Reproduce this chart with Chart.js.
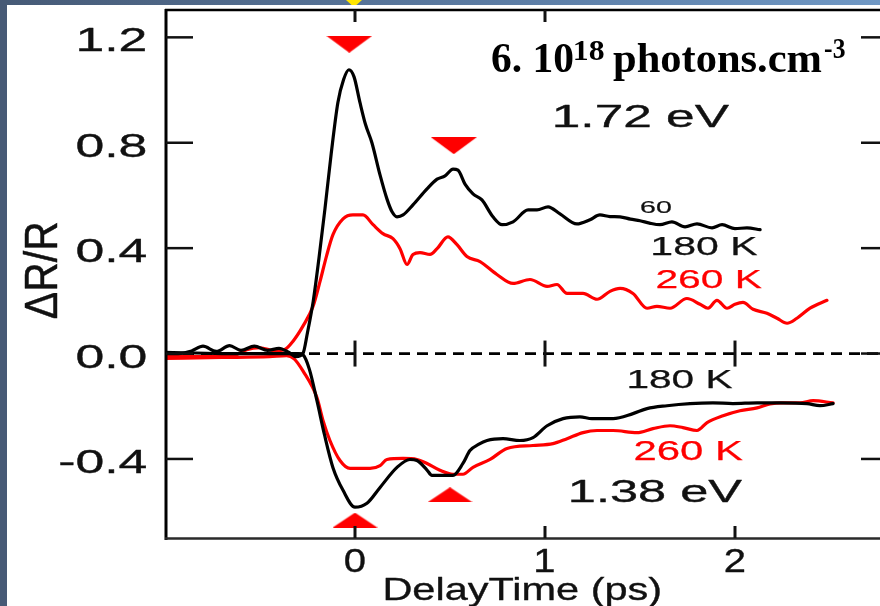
<!DOCTYPE html>
<html>
<head>
<meta charset="utf-8">
<script src="https://cdn.jsdelivr.net/npm/chart.js@4.4.1/dist/chart.umd.min.js"></script>
<style>
  html, body { margin: 0; padding: 0; background: #fff; overflow: hidden; width: 880px; height: 606px; }
  #wrap { position: relative; width: 880px; height: 606px; overflow: hidden; background: #fff; }
  #plot { position: absolute; left: 0; top: 0; display: block; }
  #topbar { position: absolute; left: 0; top: 0; width: 880px; height: 5px;
            background: linear-gradient(90deg, #465a76, #5d7ea6 60%, #7098c4); }
  #side { position: absolute; left: 0; top: 0; width: 7px; height: 606px; background: #475a76; }
  #pin { position: absolute; left: 346px; top: 0; width: 16px; height: 5px; background: #ffe600;
         clip-path: polygon(0 0, 100% 0, 65% 100%, 35% 100%); }
</style>
</head>
<body>
<div id="wrap">
  <canvas id="plot" width="900" height="606"></canvas>
  <div id="topbar"></div>
  <div id="side"></div>
  <div id="pin"></div>
</div>
<script>
// Delay axis (ps) and ΔR/R traces, 1.72 eV probe, 180 K
const blackHighT = [-1.0,-0.93,-0.86,-0.8,-0.73,-0.66,-0.6,-0.53,-0.46,-0.4,-0.35,-0.31,-0.274,-0.25,-0.22,-0.19,-0.158,-0.125,-0.09,-0.06,-0.032,-0.005,0.026,0.055,0.089,0.132,0.168,0.195,0.221,0.253,0.305,0.379,0.432,0.474,0.516,0.542,0.579,0.621,0.668,0.726,0.774,0.832,0.911,0.958,1.016,1.079,1.168,1.237,1.289,1.342,1.395,1.45,1.5,1.55,1.605,1.668,1.737,1.8,1.879,1.932,2.0,2.063,2.132];
const blackHighR = [0.0,0.0,0.01,0.028,0.008,0.03,0.012,0.028,0.012,0.02,0.005,-0.012,0.0,0.08,0.198,0.36,0.55,0.76,0.953,1.04,1.077,1.05,0.953,0.87,0.80,0.677,0.587,0.538,0.519,0.526,0.564,0.625,0.662,0.674,0.70,0.696,0.643,0.606,0.583,0.519,0.489,0.50,0.545,0.545,0.557,0.53,0.492,0.508,0.526,0.52,0.519,0.51,0.504,0.495,0.489,0.50,0.481,0.492,0.477,0.489,0.474,0.477,0.47];

// 1.72 eV probe, 260 K
const redHighT = [-1.0,-0.82,-0.64,-0.57,-0.5,-0.42,-0.37,-0.326,-0.274,-0.221,-0.184,-0.15,-0.116,-0.063,-0.011,0.042,0.095,0.147,0.2,0.237,0.274,0.305,0.342,0.395,0.432,0.489,0.537,0.589,0.658,0.747,0.832,0.921,1.011,1.063,1.116,1.2,1.274,1.342,1.395,1.463,1.537,1.589,1.658,1.747,1.816,1.858,1.905,1.958,2.0,2.042,2.095,2.168,2.221,2.274,2.326,2.395,2.484];
const redHighR = [-0.012,-0.012,-0.008,0.015,0.022,0.01,0.015,0.047,0.104,0.179,0.274,0.37,0.451,0.511,0.526,0.526,0.489,0.455,0.436,0.398,0.338,0.376,0.383,0.376,0.398,0.443,0.413,0.368,0.349,0.30,0.266,0.281,0.255,0.262,0.228,0.228,0.206,0.236,0.247,0.228,0.172,0.179,0.172,0.209,0.187,0.172,0.202,0.172,0.187,0.194,0.168,0.153,0.134,0.115,0.134,0.172,0.202];

// 1.38 eV probe, 180 K
const blackLowT = [-1.0,-0.7,-0.45,-0.3,-0.274,-0.24,-0.2,-0.16,-0.116,-0.063,0.0,0.063,0.132,0.221,0.289,0.326,0.379,0.405,0.46,0.516,0.568,0.605,0.65,0.695,0.779,0.868,0.937,1.011,1.095,1.184,1.247,1.358,1.463,1.537,1.642,1.763,1.884,1.989,2.116,2.237,2.379,2.447,2.516];
const blackLowR = [0.005,0.0,0.0,0.0,-0.005,-0.06,-0.18,-0.31,-0.433,-0.519,-0.583,-0.568,-0.508,-0.432,-0.402,-0.406,-0.442,-0.462,-0.462,-0.462,-0.417,-0.368,-0.345,-0.33,-0.323,-0.33,-0.319,-0.274,-0.247,-0.24,-0.247,-0.247,-0.228,-0.209,-0.198,-0.19,-0.187,-0.19,-0.187,-0.187,-0.19,-0.198,-0.19];

// 1.38 eV probe, 260 K
const redLowT = [-1.0,-0.7,-0.45,-0.36,-0.32,-0.274,-0.2,-0.168,-0.132,-0.079,-0.026,0.079,0.132,0.168,0.253,0.326,0.379,0.447,0.516,0.568,0.621,0.711,0.8,0.937,1.042,1.116,1.2,1.274,1.358,1.484,1.568,1.658,1.726,1.8,1.853,1.937,2.026,2.116,2.184,2.253,2.342,2.411,2.516];
const redLowR = [-0.018,-0.015,-0.012,-0.008,-0.02,-0.066,-0.168,-0.255,-0.33,-0.406,-0.436,-0.436,-0.425,-0.402,-0.398,-0.402,-0.417,-0.443,-0.458,-0.458,-0.432,-0.402,-0.36,-0.349,-0.342,-0.323,-0.30,-0.292,-0.292,-0.30,-0.285,-0.274,-0.281,-0.292,-0.262,-0.236,-0.217,-0.206,-0.191,-0.187,-0.187,-0.179,-0.187];

// Zero reference line
const zeroT = [-1.0, 2.8];
const zeroR = [0, 0];

// Oscillation maxima (down markers) and minima (up markers)
const peakDownT = [-0.03, 0.52];
const peakDownR = [1.174, 0.789];
const peakUpT = [0.0, 0.5];
const peakUpR = [-0.632, -0.536];

// Axis ticks
const yTicks = [1.2, 0.8, 0.4, 0.0, -0.4];
const xTicks = [0, 1, 2];
const xTopTicks = [0, 1];

const RED = '#ff0000';
const INK = '#111111';

function pairs(t, r) { return t.map((v, i) => ({ x: v, y: r[i] })); }

function triangle(w, h, up) {
  const c = document.createElement('canvas');
  c.width = w; c.height = h;
  const g = c.getContext('2d');
  g.fillStyle = RED;
  g.beginPath();
  if (up) { g.moveTo(w / 2, 0); g.lineTo(w, h); g.lineTo(0, h); }
  else { g.moveTo(0, 0); g.lineTo(w, 0); g.lineTo(w / 2, h); }
  g.closePath();
  g.fill();
  return c;
}

// Draw text stretched horizontally so its inked width equals `width`
function fitText(ctx, str, x, base, font, color, width, align, sxFixed, weight) {
  ctx.save();
  ctx.font = font;
  ctx.fillStyle = color;
  ctx.strokeStyle = color;
  ctx.textAlign = 'left';
  ctx.textBaseline = 'alphabetic';
  const m = ctx.measureText(str);
  const ink = m.actualBoundingBoxLeft + m.actualBoundingBoxRight;
  const sx = sxFixed || width / ink;
  const w = ink * sx;
  const left = align === 'right' ? x - w : align === 'center' ? x - w / 2 : x;
  ctx.translate(left + m.actualBoundingBoxLeft * sx, base);
  ctx.scale(sx, 1);
  ctx.fillText(str, 0, 0);
  if (weight) { ctx.lineWidth = weight; ctx.lineJoin = 'round'; ctx.strokeText(str, 0, 0); }
  ctx.restore();
}

function inkScale(ctx, str, font, width) {
  ctx.save();
  ctx.font = font;
  const m = ctx.measureText(str);
  ctx.restore();
  return width / (m.actualBoundingBoxLeft + m.actualBoundingBoxRight);
}

const SANS = '"Liberation Sans", Arial, sans-serif';
const SERIF = '"Liberation Serif", "Times New Roman", serif';
const W = 0.35;

const frame = {
  id: 'frame',
  afterDraw(chart) {
    const ctx = chart.ctx;
    const ca = chart.chartArea;
    const xs = chart.scales.x, ys = chart.scales.y;
    const seg = (x1, y1, x2, y2) => { ctx.beginPath(); ctx.moveTo(x1, y1); ctx.lineTo(x2, y2); ctx.stroke(); };

    ctx.save();
    ctx.lineCap = 'butt';
    ctx.strokeStyle = '#000';
    // frame
    ctx.lineWidth = 3;
    seg(ca.left + 1, ca.top - 2, ca.left + 1, ca.bottom + 2);
    ctx.lineWidth = 2.5;
    seg(ca.left, ca.top - 1, ca.right, ca.top - 1);
    ctx.strokeStyle = '#2a2a2a';
    seg(ca.left, ca.bottom + 0.5, ca.right, ca.bottom + 0.5);
    seg(ca.right, ca.top, ca.right, ca.bottom);

    // y ticks, both sides, pointing inward
    ctx.strokeStyle = '#111';
    ctx.lineWidth = 2.5;
    yTicks.forEach(v => {
      const py = ys.getPixelForValue(v);
      seg(ca.left + 1, py, ca.left + 28, py);
      seg(ca.right - 26, py, ca.right, py);
    });
    // x ticks: bottom, top and across the zero line
    ctx.lineWidth = 3;
    const y0 = ys.getPixelForValue(0);
    xTicks.forEach(v => {
      const px = xs.getPixelForValue(v);
      seg(px, ca.bottom, px, ca.bottom - 12);
      seg(px, y0 - 13, px, y0 + 13);
    });
    xTopTicks.forEach(v => {
      const px = xs.getPixelForValue(v);
      seg(px, ca.top - 1, px, ca.top + 11);
    });
    ctx.restore();

    // tick labels
    const yFont = '34px ' + SANS;
    const ySx = inkScale(ctx, '0.8', yFont, 69);
    yTicks.forEach(v => {
      fitText(ctx, v.toFixed(1), 146, ys.getPixelForValue(v) + 14, yFont, INK, 0, 'right', ySx, W);
    });
    const xFont = '34px ' + SANS;
    const xSx = inkScale(ctx, '0', xFont, 20);
    xTicks.forEach(v => {
      fitText(ctx, String(v), xs.getPixelForValue(v), 572, xFont, INK, 0, 'center', xSx, W);
    });

    // axis titles
    fitText(ctx, 'DelayTime (ps)', 385, 600, '32px ' + SANS, INK, 275, 'left', 0, W);
    ctx.save();
    ctx.translate(57, 270.5);
    ctx.rotate(-Math.PI / 2);
    ctx.font = '34px ' + SANS;
    const m = ctx.measureText('ΔR/R');
    const ink = m.actualBoundingBoxLeft + m.actualBoundingBoxRight;
    ctx.scale(95 / ink, 32 / m.actualBoundingBoxAscent);
    ctx.fillStyle = INK;
    ctx.strokeStyle = INK;
    ctx.lineWidth = W;
    ctx.textBaseline = 'alphabetic';
    ctx.fillText('ΔR/R', -ink / 2 + m.actualBoundingBoxLeft, 0);
    ctx.strokeText('ΔR/R', -ink / 2 + m.actualBoundingBoxLeft, 0);
    ctx.restore();

    // curve annotations
    fitText(ctx, '1.72 eV', 555, 127, '32px ' + SANS, INK, 175, 'left', 0, W);
    fitText(ctx, '1.38 eV', 571, 502, '32px ' + SANS, INK, 172, 'left', 0, W);
    fitText(ctx, '60', 640, 213, '17px ' + SANS, INK, 31, 'left', 0, 0.2);
    fitText(ctx, '180 K', 652, 255, '25px ' + SANS, INK, 106, 'left', 0, 0.25);
    fitText(ctx, '260 K', 657, 288, '26px ' + SANS, RED, 106, 'left', 0, 0.25);
    fitText(ctx, '180 K', 628, 388, '25px ' + SANS, INK, 105, 'left', 0, 0.25);
    fitText(ctx, '260 K', 635, 460, '27px ' + SANS, RED, 108, 'left', 0, 0.25);

    // excitation density
    const bold = 'bold 42px ' + SERIF;
    const boldSup = 'bold 29px ' + SERIF;
    fitText(ctx, '6. 10', 492, 72, bold, '#000', 81, 'left');
    fitText(ctx, '18', 575, 60, boldSup, '#000', 29, 'left');
    fitText(ctx, 'photons.cm', 613, 72, bold, '#000', 209, 'left');
    fitText(ctx, '-3', 825, 58, boldSup, '#000', 20, 'left');
  }
};

const curve = (t, r, color) => ({
  data: pairs(t, r),
  borderColor: color,
  borderWidth: 3.2,
  pointRadius: 0,
  cubicInterpolationMode: 'monotone',
  borderJoinStyle: 'round',
  borderCapStyle: 'round',
  fill: false,
  order: 5
});

new Chart(document.getElementById('plot').getContext('2d'), {
  type: 'line',
  data: {
    datasets: [
      {
        data: pairs(peakDownT, peakDownR),
        showLine: false,
        pointStyle: triangle(46, 17, false),
        pointRadius: 10,
        order: 1
      },
      {
        data: pairs(peakUpT, peakUpR),
        showLine: false,
        pointStyle: triangle(45, 15, true),
        pointRadius: 10,
        order: 1
      },
      curve(blackHighT, blackHighR, '#000'),
      curve(blackLowT, blackLowR, '#000'),
      curve(redHighT, redHighR, RED),
      curve(redLowT, redLowR, RED),
      {
        data: pairs(zeroT, zeroR),
        borderColor: '#000',
        borderWidth: 2.8,
        borderDash: [11, 7],
        pointRadius: 0,
        order: 10
      }
    ]
  },
  options: {
    responsive: false,
    animation: false,
    devicePixelRatio: 1,
    layout: { padding: { left: 165, right: 13, top: 8, bottom: 68 } },
    scales: {
      x: { type: 'linear', min: -1.0, max: 2.8, display: false },
      y: { type: 'linear', min: -0.7, max: 1.3, display: false }
    },
    plugins: { legend: { display: false }, tooltip: { enabled: false } }
  },
  plugins: [frame]
});
</script>
</body>
</html>
